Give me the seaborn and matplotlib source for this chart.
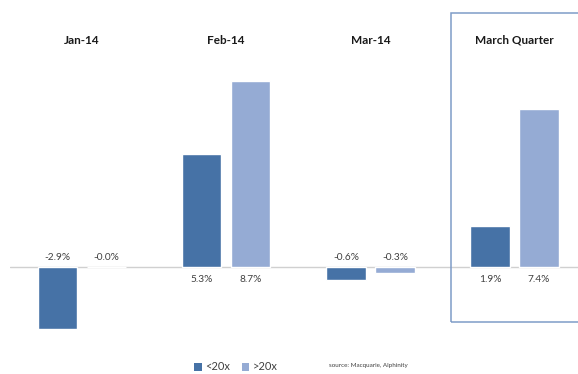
import matplotlib
matplotlib.use("Agg")
import matplotlib.pyplot as plt
import seaborn as sns
import pandas as pd
from matplotlib.patches import Rectangle, Patch

periods = ["Jan-14", "Feb-14", "Mar-14", "March Quarter"]
groups = ["<20x", ">20x"]
below20 = [-2.9, 5.3, -0.6, 1.9]
above20 = [-0.02, 8.7, -0.3, 7.4]
labels_below20 = ["-2.9%", "5.3%", "-0.6%", "1.9%"]
labels_above20 = ["-0.0%", "8.7%", "-0.3%", "7.4%"]
colors = ["#4672A6", "#95ABD4"]

df = pd.DataFrame({
    "period": periods * 2,
    "group": [groups[0]] * 4 + [groups[1]] * 4,
    "value": below20 + above20,
})

sns.set_theme(style="white")
plt.rcParams["font.family"] = ["Lato", "DejaVu Sans"]

fig = plt.figure(figsize=(5.78, 3.74), dpi=100)
ax = fig.add_axes([10 / 578, 0, 1 - 10 / 578, 1])
sns.barplot(data=df, x="period", y="value", hue="group", order=periods,
            hue_order=groups, palette=colors, width=0.68, gap=0.2,
            saturation=1, ax=ax, legend=False)

ax.set_xlim(-0.5, 3.44)
ax.set_ylim(-5.0, 12.48)
for s in ax.spines.values():
    s.set_visible(False)
ax.set_xticks([])
ax.set_yticks([])
ax.set_xlabel("")
ax.set_ylabel("")
ax.axhline(0, color="#D0D0D0", lw=1, zorder=0)

# value labels
for i, (v, lab) in enumerate(zip(below20, labels_below20)):
    y = 0.45 if v < 0 else -0.58
    ax.text(i - 0.17, y, lab, ha="center", va="center", fontsize=7.3, color="#404040")
for i, (v, lab) in enumerate(zip(above20, labels_above20)):
    y = 0.45 if v < 0 else -0.58
    ax.text(i + 0.17, y, lab, ha="center", va="center", fontsize=7.3, color="#404040")

# titles
for i, p in enumerate(periods):
    ax.text(i, 10.6, p, ha="center", va="center", fontsize=8.5, fontweight="bold", color="#1a1a1a")

# box around March Quarter
ax.add_patch(Rectangle((2.556, -2.57), 2.0, 14.44, fill=False, edgecolor="#7F9CC8", lw=1.1, clip_on=True))

# legend
handles = [Patch(facecolor=c, edgecolor="none") for c in colors]
ax.legend(handles, groups, loc="center", bbox_to_anchor=(236 / 578, 7 / 374),
          bbox_transform=fig.transFigure, ncol=2, frameon=False, fontsize=8,
          handlelength=0.7, handleheight=0.7, handletextpad=0.3, columnspacing=1.0,
          labelcolor="#404040")

fig.text(368 / 578, 8 / 374, "source: Macquarie, Alphinity", ha="center", va="center",
         fontsize=4.5, color="#404040")

fig.savefig("out.png", dpi=100)
